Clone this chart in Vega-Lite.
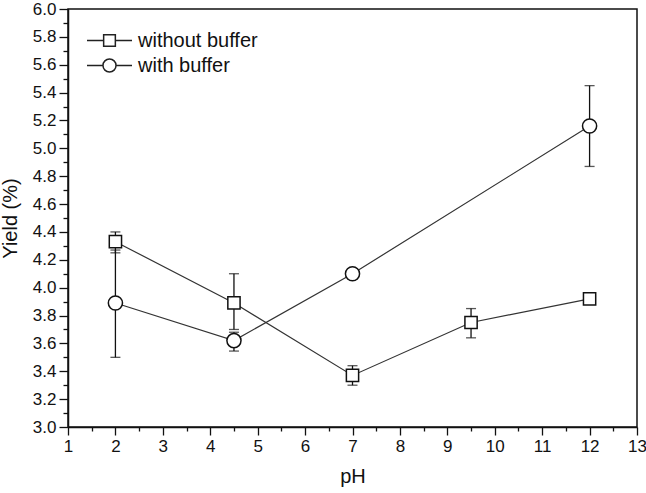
{
  "$schema": "https://vega.github.io/schema/vega-lite/v6.json",
  "autosize": "none",
  "width": 569,
  "height": 418,
  "padding": {"left": 68, "top": 9, "right": 9, "bottom": 66},
  "background": "white",
  "config": {
    "font": "Liberation Sans",
    "view": {"stroke": "#111", "strokeWidth": 1.5},
    "axis": {
      "domainColor": "#111", "domainWidth": 1.5, "tickColor": "#111", "tickWidth": 1.3,
      "labelColor": "#111", "labelFontSize": 17, "titleColor": "#111", "titleFontSize": 20,
      "titleFontWeight": "normal", "grid": false, "labelFont": "Liberation Sans", "titleFont": "Liberation Sans"
    }
  },
  "data": {
    "values": [
      {"pH": 2, "yield": 4.33, "lo": 4.25, "hi": 4.40, "series": "without buffer"},
      {"pH": 4.5, "yield": 3.89, "lo": 3.70, "hi": 4.10, "series": "without buffer"},
      {"pH": 7, "yield": 3.37, "lo": 3.30, "hi": 3.44, "series": "without buffer"},
      {"pH": 9.5, "yield": 3.75, "lo": 3.64, "hi": 3.85, "series": "without buffer"},
      {"pH": 12, "yield": 3.92, "lo": 3.91, "hi": 3.93, "series": "without buffer"},
      {"pH": 2, "yield": 3.89, "lo": 3.50, "hi": 4.27, "series": "with buffer"},
      {"pH": 4.5, "yield": 3.62, "lo": 3.545, "hi": 3.68, "series": "with buffer"},
      {"pH": 7, "yield": 4.10, "lo": 4.06, "hi": 4.13, "series": "with buffer"},
      {"pH": 12, "yield": 5.16, "lo": 4.87, "hi": 5.45, "series": "with buffer"}
    ]
  },
  "encoding": {
    "x": {
      "field": "pH", "type": "quantitative",
      "scale": {"domain": [1, 13], "nice": false, "zero": false},
      "axis": {
        "title": "pH", "titlePadding": 12,
        "values": [1, 1.5, 2, 2.5, 3, 3.5, 4, 4.5, 5, 5.5, 6, 6.5, 7, 7.5, 8, 8.5, 9, 9.5, 10, 10.5, 11, 11.5, 12, 12.5, 13],
        "labelExpr": "datum.value % 1 === 0 ? format(datum.value, 'd') : ''",
        "tickSize": {"condition": {"test": "datum.value % 1 !== 0", "value": 4}, "value": 8},
        "labelPadding": 3,
        "labelFlush": false,
        "labelOverlap": false
      }
    },
    "y": {
      "field": "yield", "type": "quantitative",
      "scale": {"domain": [3.0, 6.0], "nice": false, "zero": false},
      "axis": {
        "title": "Yield (%)", "titlePadding": 12,
        "values": [3.0, 3.1, 3.2, 3.3, 3.4, 3.5, 3.6, 3.7, 3.8, 3.9, 4.0, 4.1, 4.2, 4.3, 4.4, 4.5, 4.6, 4.7, 4.8, 4.9, 5.0, 5.1, 5.2, 5.3, 5.4, 5.5, 5.6, 5.7, 5.8, 5.9, 6.0],
        "labelExpr": "round(datum.value * 10) % 2 === 0 ? format(datum.value, '.1f') : ''",
        "tickSize": {"condition": {"test": "round(datum.value * 10) % 2 !== 0", "value": 5}, "value": 9},
        "labelPadding": 3,
        "labelFlush": false,
        "labelOverlap": false
      }
    }
  },
  "layer": [
    {
      "mark": {"type": "rule", "color": "#111", "strokeWidth": 1.3},
      "encoding": {
        "y": {"field": "lo", "type": "quantitative"},
        "y2": {"field": "hi"}
      }
    },
    {
      "mark": {"type": "tick", "orient": "horizontal", "size": 10, "thickness": 1.3, "color": "#111"},
      "encoding": {"y": {"field": "lo", "type": "quantitative"}}
    },
    {
      "mark": {"type": "tick", "orient": "horizontal", "size": 10, "thickness": 1.3, "color": "#111"},
      "encoding": {"y": {"field": "hi", "type": "quantitative"}}
    },
    {
      "mark": {"type": "line", "color": "#333", "strokeWidth": 1.2},
      "encoding": {
        "detail": {"field": "series"}
      }
    },
    {
      "mark": {"type": "point", "filled": false, "fill": "white", "fillOpacity": 1, "stroke": "#111", "strokeWidth": 1.5, "opacity": 1},
      "encoding": {
        "shape": {
          "field": "series", "type": "nominal",
          "scale": {"domain": ["without buffer", "with buffer"], "range": ["square", "circle"]},
          "legend": null
        },
        "size": {"condition": {"test": "datum.series === 'with buffer'", "value": 200}, "value": 150}
      }
    },
    {
      "transform": [{"filter": "false"}],
      "mark": {"type": "point", "filled": false, "fill": "white", "fillOpacity": 1, "stroke": "#222", "strokeWidth": 1.4, "opacity": 1},
      "encoding": {
        "shape": {
          "field": "series", "type": "nominal",
          "scale": {"domain": ["without buffer", "with buffer"], "range": ["M-1,0H-0.26M0.26,0H1M-0.26,-0.26H0.26V0.26H-0.26Z", "M-1,0H-0.29M0.29,0H1M0.29,0A0.29,0.29 0 1,1 -0.29,0A0.29,0.29 0 1,1 0.29,0Z"]},
          "legend": {
            "title": null, "orient": "none", "legendX": 18, "legendY": 19,
            "labelFontSize": 20, "labelColor": "#111", "labelFont": "Liberation Sans",
            "symbolSize": 2025, "rowPadding": 0, "labelOffset": 5, "clipHeight": 25
          }
        }
      }
    }
  ],
  "resolve": {"scale": {"shape": "independent"}}
}
